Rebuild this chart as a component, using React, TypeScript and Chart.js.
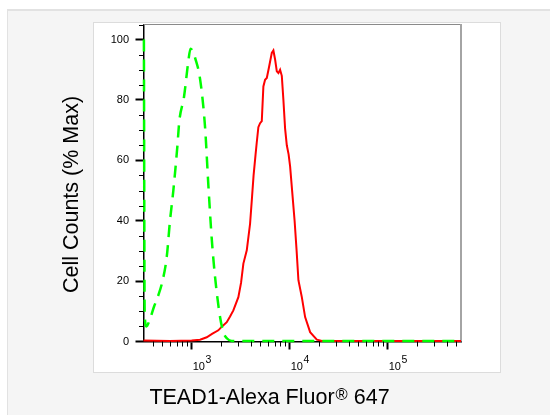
import React, { useEffect, useRef } from 'react';
import { Chart, registerables } from 'chart.js';

Chart.register(...registerables);

const FONT = "'Liberation Sans', Arial, Helvetica, sans-serif";

// Isotype control (green dashed)
const greenX = [325, 331, 345, 375, 412, 456, 503, 556, 600, 649, 713, 747, 834, 923, 972, 1031, 1081, 1216, 1368, 1477, 1601, 1730, 1946, 2103, 2294, 2563, 10000, 100000, 560000];
const greenY = [100, 9, 5, 7.5, 11.5, 15.3, 20, 28, 40, 50, 64.5, 73, 81, 92.8, 97, 96, 94, 87, 71, 52, 34, 21.4, 8.1, 3.1, 1, 0.2, 0.2, 0.2, 0.2];

// TEAD1 stained (red solid)
const redX = [322, 600, 1000, 1216, 1423, 1612, 1869, 2039, 2278, 2462, 2660, 2992, 3189, 3366, 3646, 3940, 4129, 4279, 4484, 4612, 4788, 4985, 5188, 5387, 5607, 5837, 6161, 6565, 6816, 7095, 7385, 7669, 7979, 8305, 8624, 8974, 9341, 9745, 10095, 10581, 11220, 11764, 12271, 13293, 14366, 16160, 18915, 21282, 100000, 560000];
const redY = [0.3, 0.2, 0.3, 0.6, 1.4, 2.5, 3.7, 5, 6.4, 8.3, 10.3, 14.7, 19.5, 25.8, 30.2, 39, 48, 55, 62, 66, 71, 72.3, 73, 84.5, 86.7, 87.3, 91, 95.6, 96.4, 93.4, 89.5, 88.9, 90, 88, 80, 70.5, 65, 62, 58, 50, 40, 30, 20.3, 14.7, 8.1, 3.1, 0.6, 0.2, 0.2, 0.2];

const yTickValues = [0, 5, 10, 15, 20, 25, 30, 35, 40, 45, 50, 55, 60, 65, 70, 75, 80, 85, 90, 95, 100, 105];
const yLabelValues = [0, 20, 40, 60, 80, 100];
const xTickValues = [400, 500, 600, 700, 800, 900, 1000, 2000, 3000, 4000, 5000, 6000, 7000, 8000, 9000, 10000, 20000, 30000, 40000, 50000, 60000, 70000, 80000, 90000, 100000, 200000, 300000, 400000, 500000];
const xLabelValues = [1000, 10000, 100000];
const xLabelExponents = ['3', '4', '5'];
const xMin = 322;
const xMax = 560000;
const yMin = 0;
const yMax = 105;

const yTitle = 'Cell Counts (% Max)';
const xTitleMain = 'TEAD1-Alexa Fluor';
const xTitleMark = '®';
const xTitleEnd = ' 647';

const decorPlugin = {
  id: 'decor',
  beforeDatasetsDraw(chart: any) {
    const { ctx, chartArea: a } = chart;
    ctx.save();
    ctx.strokeStyle = '#8a8a8a';
    ctx.lineWidth = 1;
    ctx.beginPath();
    ctx.moveTo(a.left, Math.floor(a.top) + 0.5);
    ctx.lineTo(a.right, Math.floor(a.top) + 0.5);
    ctx.stroke();
    ctx.strokeStyle = '#a4a4a4';
    ctx.lineWidth = 2;
    ctx.beginPath();
    ctx.moveTo(Math.round(a.right), Math.floor(a.top));
    ctx.lineTo(Math.round(a.right), a.bottom);
    ctx.stroke();
    ctx.restore();
  },
  afterDraw(chart: any) {
    const { ctx, chartArea: a, scales } = chart;
    const xs = scales.x;
    const ys = scales.y;
    ctx.save();
    ctx.strokeStyle = '#000';
    ctx.lineWidth = 1;
    ys.ticks.forEach((t: any) => {
      if (yLabelValues.includes(t.value)) return;
      const py = Math.round(ys.getPixelForValue(t.value)) + 0.5;
      ctx.beginPath();
      ctx.moveTo(a.left - 4.5, py);
      ctx.lineTo(a.left, py);
      ctx.stroke();
    });
    xs.ticks.forEach((t: any) => {
      if (xLabelValues.includes(t.value)) return;
      const px = Math.round(xs.getPixelForValue(t.value)) + 0.5;
      ctx.beginPath();
      ctx.moveTo(px, a.bottom);
      ctx.lineTo(px, a.bottom + 5);
      ctx.stroke();
    });

    ctx.fillStyle = '#000';
    ctx.textBaseline = 'alphabetic';
    ctx.textAlign = 'left';
    xLabelValues.forEach((v, i) => {
      const px = xs.getPixelForValue(v);
      ctx.font = `11px ${FONT}`;
      ctx.fillText('10', px + 1, a.bottom + 28);
      const w = ctx.measureText('10').width;
      ctx.font = `10.5px ${FONT}`;
      ctx.fillText(xLabelExponents[i], px + 1.5 + w, a.bottom + 21);
    });

    // y title
    ctx.font = `21.5px ${FONT}`;
    ctx.save();
    ctx.translate(77.5, 194.5);
    ctx.rotate(-Math.PI / 2);
    ctx.textAlign = 'center';
    ctx.fillText(yTitle, 0, 0);
    ctx.restore();

    // x title
    ctx.textAlign = 'left';
    ctx.font = `21.5px ${FONT}`;
    const w1 = ctx.measureText(xTitleMain).width;
    const w3 = ctx.measureText(xTitleEnd).width;
    ctx.font = `16.5px ${FONT}`;
    const w2 = ctx.measureText(xTitleMark).width;
    const total = w1 + 1 + w2 + w3;
    let x = 269.5 - total / 2;
    const base = 404.3;
    ctx.font = `21.5px ${FONT}`;
    ctx.fillText(xTitleMain, x, base);
    x += w1 + 1;
    ctx.font = `16.5px ${FONT}`;
    ctx.fillText(xTitleMark, x, base - 4);
    x += w2;
    ctx.font = `21.5px ${FONT}`;
    ctx.fillText(xTitleEnd, x, base);
    ctx.restore();
  },
};

export default function App() {
  const ref = useRef<HTMLCanvasElement>(null);
  useEffect(() => {
    if (!ref.current) return;
    const chart = new Chart(ref.current, {
      type: 'line',
      data: {
        datasets: [
          {
            label: 'Isotype control',
            data: greenX.map((x, i) => ({ x, y: greenY[i] })),
            borderColor: '#00ff00',
            borderWidth: 2.5,
            borderDash: [12, 8],
            pointRadius: 0,
            fill: false,
            cubicInterpolationMode: 'monotone',
            clip: false,
          } as any,
          {
            label: 'TEAD1',
            data: redX.map((x, i) => ({ x, y: redY[i] })),
            borderColor: '#ff0000',
            borderWidth: 2,
            pointRadius: 0,
            fill: false,
            tension: 0,
            clip: false,
          } as any,
        ],
      },
      options: {
        animation: false,
        responsive: true,
        maintainAspectRatio: false,
        layout: { padding: { left: 0, top: 24.5, right: 89, bottom: 0 } },
        plugins: {
          legend: { display: false },
          tooltip: { enabled: false },
        },
        scales: {
          x: {
            type: 'logarithmic',
            min: xMin,
            max: xMax,
            afterBuildTicks: (s: any) => {
              s.ticks = xTickValues.map((v) => ({ value: v, major: xLabelValues.includes(v) }));
            },
            afterFit: (s: any) => {
              s.height = 73.5;
            },
            grid: {
              drawOnChartArea: false,
              drawTicks: true,
              tickLength: 8,
              tickWidth: 2,
              tickColor: (c: any) => (c.tick && xLabelValues.includes(c.tick.value) ? '#000' : 'rgba(0,0,0,0)'),
            },
            border: { display: true, color: '#000', width: 1.5 },
            ticks: { display: false, autoSkip: false },
          },
          y: {
            type: 'linear',
            min: yMin,
            max: yMax,
            afterBuildTicks: (s: any) => {
              s.ticks = yTickValues.map((v) => ({ value: v }));
            },
            afterFit: (s: any) => {
              s.width = 143.5;
            },
            grid: {
              drawOnChartArea: false,
              drawTicks: true,
              tickLength: 8,
              tickWidth: 2,
              tickColor: (c: any) => (c.tick && yLabelValues.includes(c.tick.value) ? '#000' : 'rgba(0,0,0,0)'),
            },
            border: { display: true, color: '#000', width: 1.5 },
            ticks: {
              autoSkip: false,
              padding: 6.5,
              color: '#000',
              font: { family: FONT, size: 11 },
              callback: (v: any) => (yLabelValues.includes(Number(v)) ? String(v) : ''),
            },
          },
        },
      } as any,
      plugins: [decorPlugin],
    });
    return () => chart.destroy();
  }, []);

  return (
    <div style={{ position: 'fixed', left: 0, top: 0, width: 550, height: 415, overflow: 'hidden', background: '#ffffff' }}>
      <div
        style={{
          position: 'absolute',
          left: 7,
          top: 9,
          width: 620,
          height: 520,
          background: '#f5f5f5',
          borderTop: '2px solid #e2e2e2',
          borderLeft: '1.5px solid #e2e2e2',
        }}
      />
      <div
        style={{
          position: 'absolute',
          left: 93,
          top: 22,
          width: 408,
          height: 351,
          boxSizing: 'border-box',
          background: '#ffffff',
          border: '1px solid #dcdcdc',
        }}
      />
      <div style={{ position: 'absolute', left: 0, top: 0, width: 550, height: 415 }}>
        <canvas ref={ref} />
      </div>
    </div>
  );
}
